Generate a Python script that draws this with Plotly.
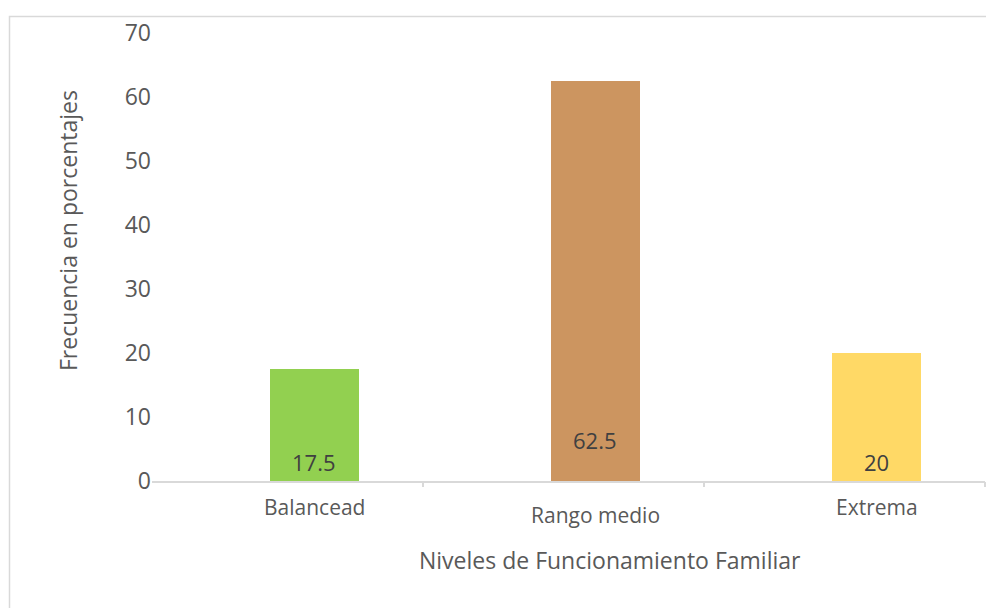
import plotly.graph_objects as go

categories = ["Balancead", "Rango medio", "Extrema"]
values = [17.5, 62.5, 20]
colors = ["#92D050", "#CC9560", "#FFD966"]
y_ticks = [0, 10, 20, 30, 40, 50, 60, 70]
x_title = "Niveles de Funcionamiento Familiar"
y_title = "Frecuencia en porcentajes"

FONT = "Open Sans"
OFF = 8  # page body margin
W, H = 994 - OFF, 608 - OFF
L, R, T, B = 152 - OFF, 9, 33 - OFF, 608 - 481
pw = W - L - R
ph = H - T - B

def px_x(p):
    return (p - OFF - L) / pw

def px_y(p):
    return (H - B - (p - OFF)) / ph

fig = go.Figure()
fig.add_trace(go.Bar(
    x=categories, y=values, marker=dict(color=colors, line=dict(width=0)),
    width=0.317, showlegend=False, hoverinfo="skip",
))

xr = [-0.578, 2.386]
fig.add_trace(go.Scatter(x=[0, 1], y=[None, None], xaxis="x2", showlegend=False))

fig.update_layout(
    width=W, height=H,
    margin=dict(l=L, r=R, t=T, b=B, autoexpand=False),
    paper_bgcolor="white", plot_bgcolor="white",
    bargap=0,
    xaxis=dict(type="category", range=xr, showticklabels=False, ticks="",
               showline=True, linecolor="#D9D9D9", linewidth=1.5,
               showgrid=False, zeroline=False, fixedrange=True),
    xaxis2=dict(overlaying="x", range=xr, tickvals=[0.386, 1.386, 2.386],
                ticks="outside", ticklen=5, tickcolor="#D9D9D9", tickwidth=1.5,
                showticklabels=False, showgrid=False, zeroline=False,
                showline=False, side="bottom", anchor="y"),
    yaxis=dict(range=[0, 70], tickvals=y_ticks, showgrid=False, zeroline=False,
               showline=False, ticks="",
               tickfont=dict(family=FONT, size=23, color="#595959")),
    font=dict(family=FONT, color="#595959"),
)

label_shift = [-26, -34, -26]
for c, s in zip(categories, label_shift):
    fig.add_annotation(x=c, y=0, xref="x", yref="y", text=c, showarrow=False,
                       yshift=s, xanchor="center", yanchor="middle",
                       font=dict(family=FONT, size=21, color="#595959"))

data_shift = [19, 41, 19]
for c, v, s in zip(categories, values, data_shift):
    fig.add_annotation(x=c, y=0, xref="x", yref="y", text=f"{v:g}", showarrow=False,
                       yshift=s, xanchor="center", yanchor="middle",
                       font=dict(family=FONT, size=22, color="#404040"))

fig.add_annotation(x=px_x(610), y=px_y(560), xref="paper", yref="paper",
                   text=x_title, showarrow=False, xanchor="center", yanchor="middle",
                   font=dict(family=FONT, size=23, color="#595959"))
fig.add_annotation(x=px_x(68), y=px_y(231), xref="paper", yref="paper",
                   text=y_title, showarrow=False, textangle=-90,
                   xanchor="center", yanchor="middle",
                   font=dict(family=FONT, size=23, color="#595959"))

fig.add_shape(type="rect", xref="paper", yref="paper",
              x0=px_x(9.5), x1=px_x(1000), y0=px_y(620), y1=px_y(16.5),
              line=dict(color="#D9D9D9", width=1.5), fillcolor="rgba(0,0,0,0)",
              layer="below")

fig.write_html("out.html")
